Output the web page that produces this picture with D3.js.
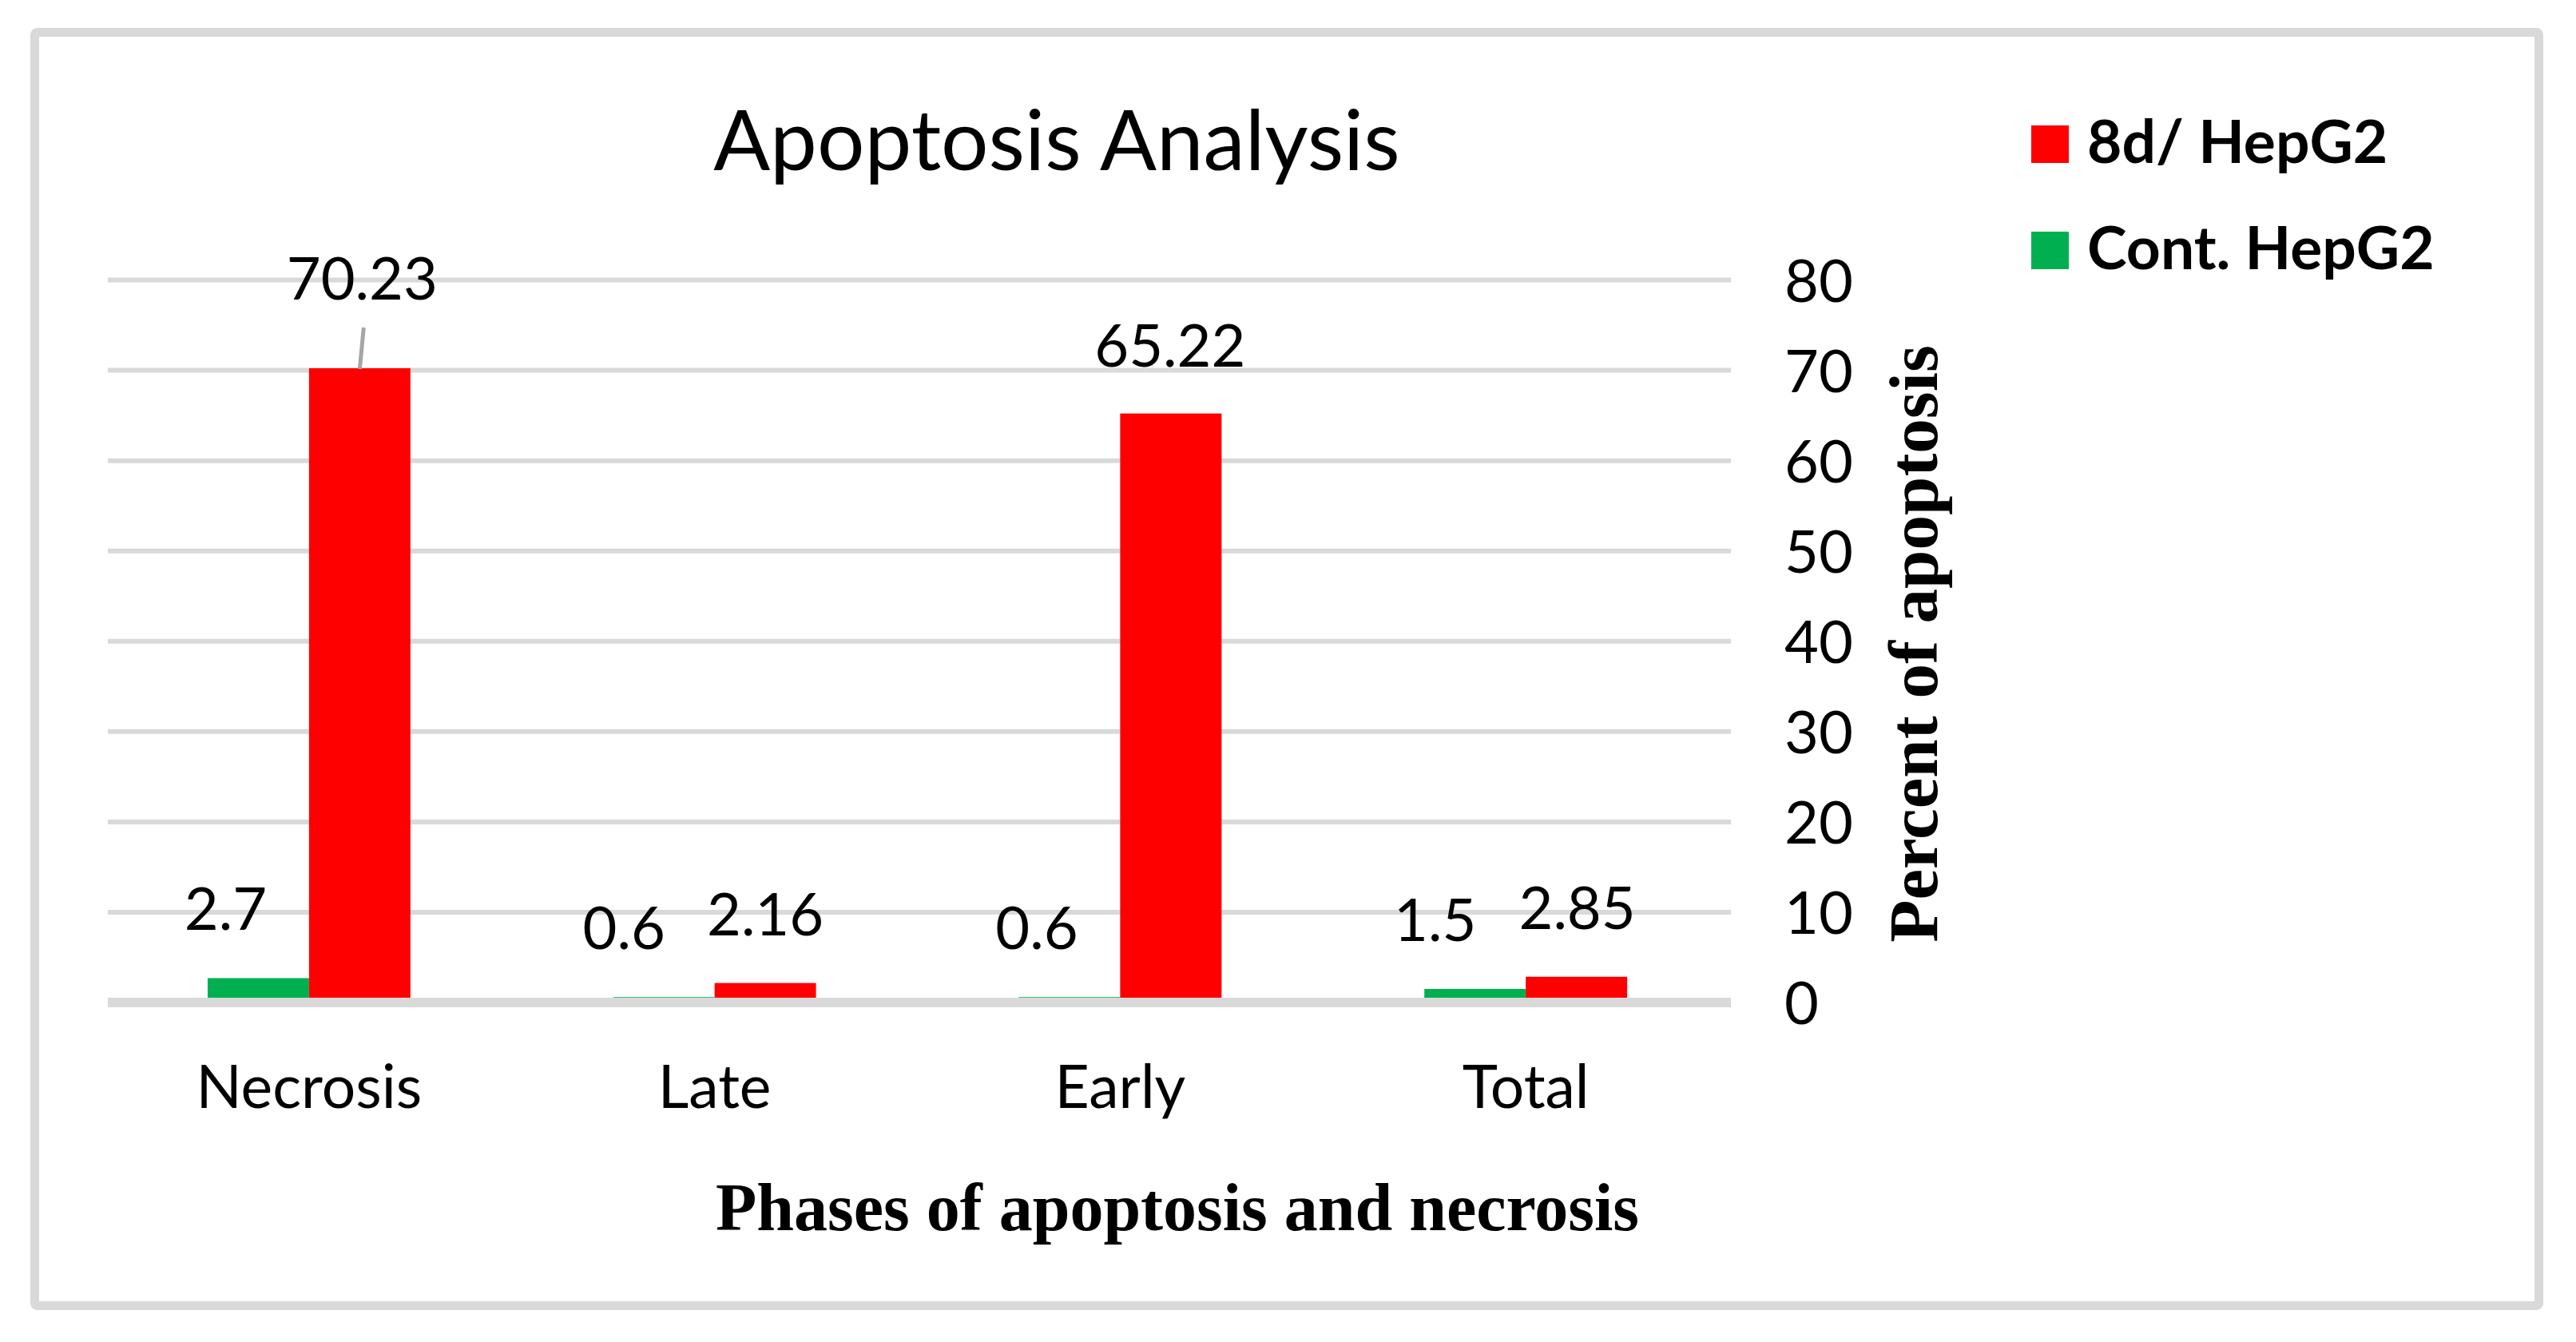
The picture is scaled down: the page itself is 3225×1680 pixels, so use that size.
<!DOCTYPE html>
<html>
<head>
<meta charset="utf-8">
<script src="https://cdn.jsdelivr.net/npm/d3@7"></script>
<style>
  html, body { margin: 0; padding: 0; background: #ffffff; }
  svg { display: block; }
</style>
</head>
<body>
<svg id="chart" width="3225" height="1680"></svg>
<script>
// ---------------- data ----------------
const categories = ["Necrosis", "Late", "Early", "Total"];
const seriesNames = ["Cont. HepG2", "8d/ HepG2"];
const contValues = [2.7, 0.6, 0.6, 1.5];
const treatedValues = [70.23, 2.16, 65.22, 2.85];
const yTicks = [0, 10, 20, 30, 40, 50, 60, 70, 80];
const legendOrder = ["8d/ HepG2", "Cont. HepG2"];

// ---------------- layout / style ----------------
const colors = { "Cont. HepG2": "#00B050", "8d/ HepG2": "#FF0000" };
const gridColor = "#d9d9d9";
const sans = "Lato, 'Open Sans', sans-serif";
const serif = "'Liberation Serif', 'Times New Roman', serif";
// per-label pixel nudges (label layout as placed in the original)
const labelDx = { "Cont. HepG2": [-41, -50, -41, -50], "8d/ HepG2": [3, 0, -1, 1] };
const labelDy = { "Cont. HepG2": [-60, -60, -60, -60], "8d/ HepG2": [-86, -60, -59, -60] };

const svg = d3.select("#chart");

// outer frame
svg.append("rect")
  .attr("x", 43.5).attr("y", 40.5)
  .attr("width", 3135).attr("height", 1594)
  .attr("rx", 3)
  .attr("fill", "#ffffff")
  .attr("stroke", gridColor)
  .attr("stroke-width", 11);

const plot = { left: 135, right: 2167 };

const x0 = d3.scaleBand().domain(categories).range([133, 2164])
  .paddingInner(0.5).paddingOuter(0.25);
const x1 = d3.scaleBand().domain(seriesNames).range([0, x0.bandwidth()]).padding(0);
const y = d3.scaleLinear().domain([0, 80]).range([1255, 350.5]);

// gridlines
svg.append("g").selectAll("line")
  .data(yTicks.filter(d => d !== 0))
  .join("line")
  .attr("x1", plot.left).attr("x2", plot.right)
  .attr("y1", d => y(d)).attr("y2", d => y(d))
  .attr("stroke", gridColor).attr("stroke-width", 6);

// bars
const rows = categories.map((c, i) => ({
  cat: c, i,
  vals: [
    { s: "Cont. HepG2", v: contValues[i] },
    { s: "8d/ HepG2", v: treatedValues[i] }
  ]
}));

const groups = svg.append("g").selectAll("g")
  .data(rows).join("g")
  .attr("transform", d => `translate(${x0(d.cat)},0)`);

groups.selectAll("rect")
  .data(d => d.vals)
  .join("rect")
  .attr("x", d => x1(d.s))
  .attr("width", x1.bandwidth())
  .attr("y", d => y(d.v))
  .attr("height", d => y(0) - y(d.v))
  .attr("fill", d => colors[d.s]);

// baseline (category axis line)
svg.append("line")
  .attr("x1", plot.left).attr("x2", plot.right)
  .attr("y1", y(0)).attr("y2", y(0))
  .attr("stroke", gridColor).attr("stroke-width", 12);

// leader line for Necrosis 8d label
{
  const cx = x0("Necrosis") + x1("8d/ HepG2") + x1.bandwidth() / 2;
  svg.append("line")
    .attr("x1", cx).attr("y1", y(treatedValues[0]) + 1)
    .attr("x2", cx + 5).attr("y2", y(treatedValues[0]) - 51)
    .attr("stroke", "#a6a6a6").attr("stroke-width", 5);
}

// data labels
groups.each(function(row) {
  d3.select(this).selectAll("text.lbl")
    .data(row.vals)
    .join("text")
    .attr("class", "lbl")
    .attr("x", d => x1(d.s) + x1.bandwidth() / 2 + labelDx[d.s][row.i])
    .attr("y", d => y(d.v) + labelDy[d.s][row.i])
    .attr("text-anchor", "middle")
    .attr("font-family", sans)
    .attr("font-size", 74)
    .attr("fill", "#000")
    .text(d => String(d.v));
});

// category labels
const xAxis = d3.axisBottom(x0).tickSize(0).tickPadding(0);
const xg = svg.append("g").attr("transform", `translate(0,${1387})`).call(xAxis);
xg.select(".domain").remove();
xg.selectAll("text")
  .attr("dy", null).attr("y", 0)
  .attr("font-family", sans).attr("font-size", 75).attr("fill", "#000");

// right value axis
const yAxis = d3.axisRight(y).tickValues(yTicks).tickSize(0).tickPadding(0);
const yg = svg.append("g").attr("transform", `translate(${2234},0)`).call(yAxis);
yg.select(".domain").remove();
yg.selectAll("text")
  .attr("x", 0).attr("dy", "0.36em")
  .attr("text-anchor", "start")
  .attr("font-family", sans).attr("font-size", 74).attr("fill", "#000");

// title
svg.append("text")
  .attr("x", 1323).attr("y", 213)
  .attr("text-anchor", "middle")
  .attr("font-family", sans).attr("font-size", 105)
  .attr("fill", "#000")
  .text("Apoptosis Analysis");

// axis titles
svg.append("text")
  .attr("x", 1474).attr("y", 1540)
  .attr("text-anchor", "middle")
  .attr("font-family", serif).attr("font-weight", "bold").attr("font-size", 84)
  .attr("fill", "#000")
  .text("Phases of apoptosis and necrosis");

svg.append("text")
  .attr("transform", `translate(2425,806) rotate(-90)`)
  .attr("text-anchor", "middle")
  .attr("font-family", serif).attr("font-weight", "bold").attr("font-size", 87)
  .attr("fill", "#000")
  .text("Percent of apoptosis");

// legend
const lg = svg.append("g").selectAll("g")
  .data(legendOrder).join("g")
  .attr("transform", (d, i) => `translate(2543,${204 + i * 133})`);
lg.append("rect")
  .attr("x", 0).attr("y", -47)
  .attr("width", 47).attr("height", 47)
  .attr("fill", d => colors[d]);
lg.append("text")
  .attr("x", 70).attr("y", 0)
  .attr("font-family", sans).attr("font-weight", "bold").attr("font-size", 75)
  .attr("fill", "#000")
  .text(d => d);
</script>
</body>
</html>
